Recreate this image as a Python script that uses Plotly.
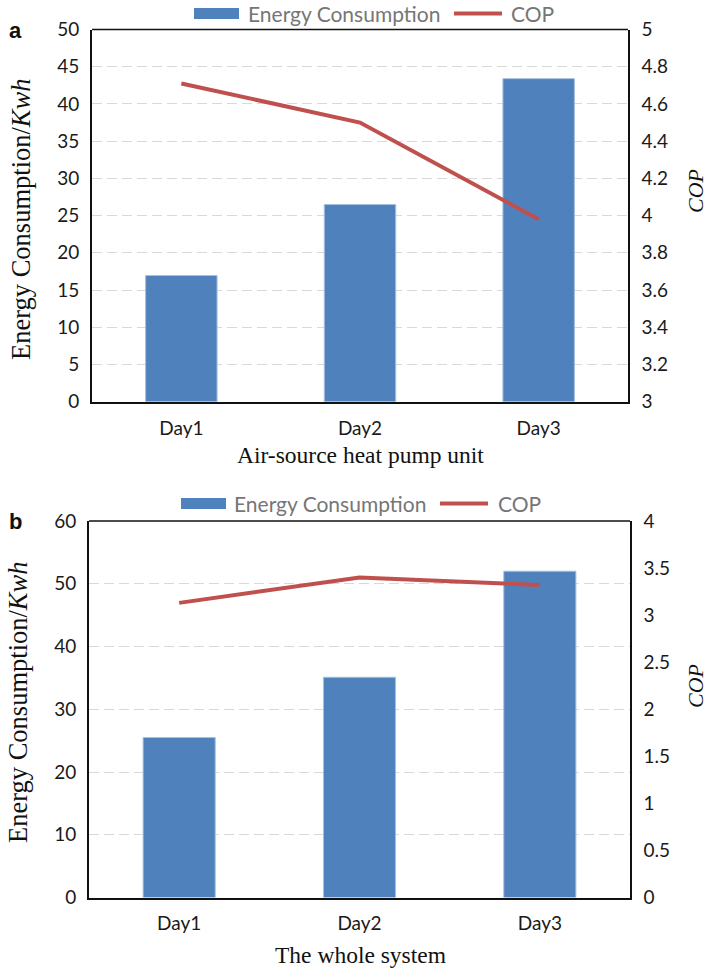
import plotly.graph_objects as go

W, H = 708, 972

# ---- data -------------------------------------------------------------
days = ["Day1", "Day2", "Day3"]

# (a) Air-source heat pump unit
energy_a = [16.95, 26.5, 43.4]
cop_a = [4.71, 4.50, 3.98]

# (b) The whole system
energy_b = [25.5, 35.1, 52.0]
cop_b = [3.13, 3.40, 3.32]

BAR_COLOR = "#4f81bd"
LINE_COLOR = "#c0504d"
GRID_COLOR = "#d9d9d9"
TICK_FONT = dict(family="Lato", size=19, color="#1a1a1a")
SERIF = "Liberation Serif"


def px_x(x):
    return x / W


def px_y(y):
    return 1 - y / H


fig = go.Figure()

# panel a traces
fig.add_trace(go.Bar(x=days, y=energy_a, width=0.4, name="Energy Consumption",
                     marker=dict(color=BAR_COLOR, line=dict(color="#a7c0e0", width=1)),
                     xaxis="x", yaxis="y", showlegend=False))
fig.add_trace(go.Scatter(x=days, y=cop_a, mode="lines", name="COP",
                         line=dict(color=LINE_COLOR, width=4),
                         xaxis="x", yaxis="y2", showlegend=False))

# panel b traces
fig.add_trace(go.Bar(x=days, y=energy_b, width=0.4, name="Energy Consumption",
                     marker=dict(color=BAR_COLOR, line=dict(color="#a7c0e0", width=1)),
                     xaxis="x2", yaxis="y3", showlegend=False))
fig.add_trace(go.Scatter(x=days, y=cop_b, mode="lines", name="COP",
                         line=dict(color=LINE_COLOR, width=4),
                         xaxis="x2", yaxis="y4", showlegend=False))

xa_dom = [px_x(92), px_x(628)]
ya_dom = [px_y(401.7), px_y(29.5)]
xb_dom = [px_x(89), px_x(630)]
yb_dom = [px_y(897.5), px_y(521)]

common_x = dict(type="category", range=[-0.5, 2.5], showgrid=False, zeroline=False,
                showline=True, linecolor="#111111", linewidth=2, ticks="",
                tickfont=TICK_FONT, ticklabelstandoff=8, fixedrange=True,
                automargin=False)
common_yl = dict(showline=True, linecolor="#111111", linewidth=2, ticks="",
                 tickfont=TICK_FONT, ticklabelstandoff=7, zeroline=False,
                 showgrid=True, gridcolor=GRID_COLOR, gridwidth=1.3,
                 griddash="10px,5px", automargin=False)
common_yr = dict(showline=True, linecolor="#111111", linewidth=1.5, ticks="",
                 tickfont=TICK_FONT, ticklabelstandoff=8, zeroline=False,
                 showgrid=False, side="right", automargin=False)

fig.update_layout(
    width=W, height=H, autosize=False, showlegend=False,
    margin=dict(l=0, r=0, t=0, b=0, pad=0),
    paper_bgcolor="white", plot_bgcolor="white",
    xaxis=dict(domain=xa_dom, anchor="y", **common_x),
    yaxis=dict(domain=ya_dom, anchor="x", range=[0, 50], dtick=5, **common_yl),
    yaxis2=dict(overlaying="y", anchor="x", range=[3, 5], dtick=0.2, **common_yr),
    xaxis2=dict(domain=xb_dom, anchor="y3", **common_x),
    yaxis3=dict(domain=yb_dom, anchor="x2", range=[0, 60], dtick=10, **common_yl),
    yaxis4=dict(overlaying="y3", anchor="x2", range=[0, 4], dtick=0.5, **common_yr),
    bargap=0.6,
)

# top border of each plot frame
for xr, yr in (("x domain", "y domain"), ("x2 domain", "y3 domain")):
    fig.add_shape(type="line", xref=xr, yref=yr, x0=0, x1=1, y0=1, y1=1,
                  line=dict(color="#111111", width=1.3))

# legends (one per panel)
LEG_FONT = dict(family="Lato", size=21, color="#767676")
for (bx0, bx1, tx1, lx0, lx1, tx2, yc) in ((194, 239, 246, 454, 502, 509, 13.5),
                                           (181, 226, 232, 440, 488, 496, 503.5)):
    fig.add_shape(type="rect", xref="paper", yref="paper",
                  x0=px_x(bx0), x1=px_x(bx1), y0=px_y(yc + 5.5), y1=px_y(yc - 5.5),
                  fillcolor=BAR_COLOR, line=dict(width=0))
    fig.add_shape(type="line", xref="paper", yref="paper",
                  x0=px_x(lx0), x1=px_x(lx1), y0=px_y(yc), y1=px_y(yc),
                  line=dict(color=LINE_COLOR, width=4))
    fig.add_annotation(xref="paper", yref="paper", x=px_x(tx1), y=px_y(yc),
                       text="Energy Consumption", showarrow=False,
                       xanchor="left", yanchor="middle", font=LEG_FONT)
    fig.add_annotation(xref="paper", yref="paper", x=px_x(tx2), y=px_y(yc),
                       text="COP", showarrow=False,
                       xanchor="left", yanchor="middle", font=LEG_FONT)

# axis titles and panel letters
Y_TITLE = "Energy Consumption/<i>Kwh</i>"
for (lx, ly, rx, ry, tx, ty, ttext, letter, let_y) in (
        (21, 220, 695, 191, 360, 455, "Air-source heat pump unit", "a", 31),
        (18, 703, 695, 686, 360, 955, "The whole system", "b", 521)):
    fig.add_annotation(xref="paper", yref="paper", x=px_x(lx), y=px_y(ly),
                       text=Y_TITLE, textangle=-90, showarrow=False,
                       xanchor="center", yanchor="middle",
                       font=dict(family=SERIF, size=26.5, color="#111111"))
    fig.add_annotation(xref="paper", yref="paper", x=px_x(rx), y=px_y(ry),
                       text="<i>COP</i>", textangle=-90, showarrow=False,
                       xanchor="center", yanchor="middle",
                       font=dict(family=SERIF, size=22, color="#111111"))
    fig.add_annotation(xref="paper", yref="paper", x=px_x(tx), y=px_y(ty),
                       text=ttext, showarrow=False,
                       xanchor="center", yanchor="middle",
                       font=dict(family=SERIF, size=23.5, color="#111111"))
    fig.add_annotation(xref="paper", yref="paper", x=px_x(15), y=px_y(let_y),
                       text="<b>" + letter + "</b>", showarrow=False,
                       xanchor="center", yanchor="middle",
                       font=dict(family="Liberation Sans", size=22, color="#111111"))

fig.write_html("out.html")
